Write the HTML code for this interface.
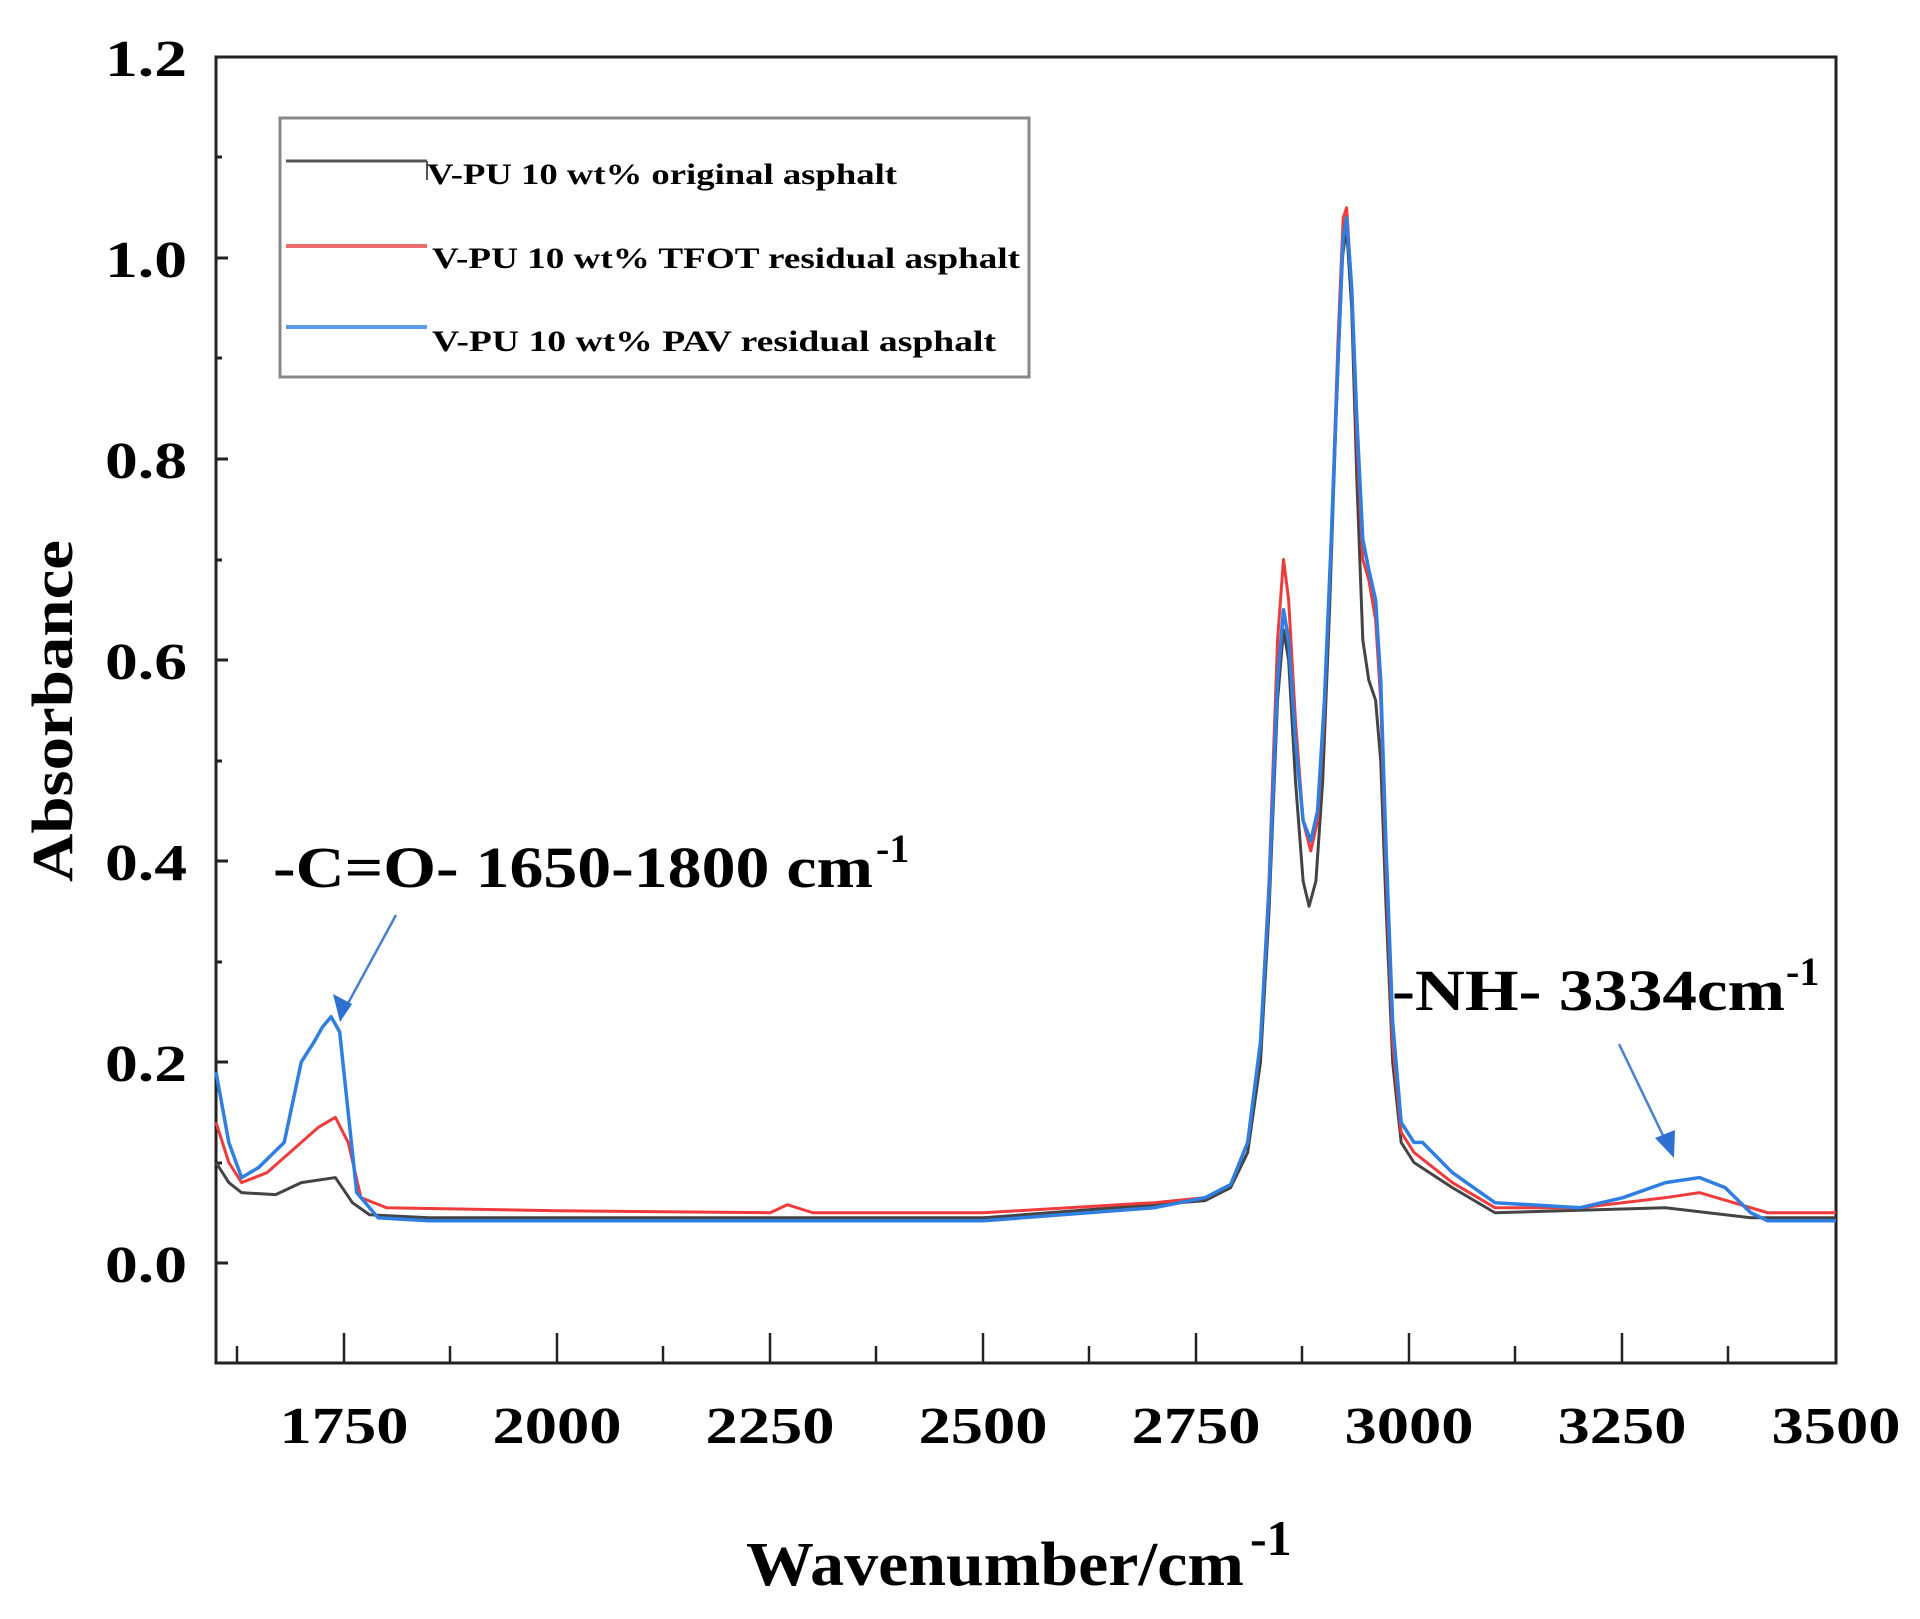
<!DOCTYPE html>
<html><head><meta charset="utf-8"><style>
html,body{margin:0;padding:0;background:#fff;}
svg{display:block;}
text{font-family:"Liberation Serif","Times New Roman",serif;font-weight:bold;fill:#000;}
</style></head><body>
<svg width="1920" height="1619" viewBox="0 0 1920 1619" xmlns="http://www.w3.org/2000/svg">
<rect width="1920" height="1619" fill="#fff"/>
<rect x="216" y="57" width="1620" height="1306" fill="none" stroke="#222" stroke-width="3"/>
<g stroke="#222" stroke-width="2.5">
<line x1="237" y1="1363" x2="237" y2="1346"/>
<line x1="344" y1="1363" x2="344" y2="1333"/>
<line x1="450" y1="1363" x2="450" y2="1346"/>
<line x1="557" y1="1363" x2="557" y2="1333"/>
<line x1="663" y1="1363" x2="663" y2="1346"/>
<line x1="770" y1="1363" x2="770" y2="1333"/>
<line x1="876" y1="1363" x2="876" y2="1346"/>
<line x1="983" y1="1363" x2="983" y2="1333"/>
<line x1="1089" y1="1363" x2="1089" y2="1346"/>
<line x1="1196" y1="1363" x2="1196" y2="1333"/>
<line x1="1302" y1="1363" x2="1302" y2="1346"/>
<line x1="1409" y1="1363" x2="1409" y2="1333"/>
<line x1="1515" y1="1363" x2="1515" y2="1346"/>
<line x1="1622" y1="1363" x2="1622" y2="1333"/>
<line x1="1728" y1="1363" x2="1728" y2="1346"/>
</g>
<g stroke="#222" stroke-width="3">
<line x1="216" y1="1263" x2="228" y2="1263"/>
<line x1="216" y1="1163" x2="222" y2="1163"/>
<line x1="216" y1="1062" x2="228" y2="1062"/>
<line x1="216" y1="962" x2="222" y2="962"/>
<line x1="216" y1="861" x2="228" y2="861"/>
<line x1="216" y1="761" x2="222" y2="761"/>
<line x1="216" y1="660" x2="228" y2="660"/>
<line x1="216" y1="560" x2="222" y2="560"/>
<line x1="216" y1="459" x2="228" y2="459"/>
<line x1="216" y1="358" x2="222" y2="358"/>
<line x1="216" y1="258" x2="228" y2="258"/>
<line x1="216" y1="157" x2="222" y2="157"/>
</g>
<g font-size="52" text-anchor="end">
<text x="187" y="1282" textLength="82" lengthAdjust="spacingAndGlyphs">0.0</text>
<text x="187" y="1081" textLength="82" lengthAdjust="spacingAndGlyphs">0.2</text>
<text x="187" y="880" textLength="82" lengthAdjust="spacingAndGlyphs">0.4</text>
<text x="187" y="679" textLength="82" lengthAdjust="spacingAndGlyphs">0.6</text>
<text x="187" y="478" textLength="82" lengthAdjust="spacingAndGlyphs">0.8</text>
<text x="187" y="277" textLength="82" lengthAdjust="spacingAndGlyphs">1.0</text>
<text x="187" y="76" textLength="82" lengthAdjust="spacingAndGlyphs">1.2</text>
</g>
<g font-size="52" text-anchor="middle">
<text x="344" y="1443" textLength="129" lengthAdjust="spacingAndGlyphs">1750</text>
<text x="557" y="1443" textLength="129" lengthAdjust="spacingAndGlyphs">2000</text>
<text x="770" y="1443" textLength="129" lengthAdjust="spacingAndGlyphs">2250</text>
<text x="983" y="1443" textLength="129" lengthAdjust="spacingAndGlyphs">2500</text>
<text x="1196" y="1443" textLength="129" lengthAdjust="spacingAndGlyphs">2750</text>
<text x="1409" y="1443" textLength="129" lengthAdjust="spacingAndGlyphs">3000</text>
<text x="1622" y="1443" textLength="129" lengthAdjust="spacingAndGlyphs">3250</text>
<text x="1836" y="1443" textLength="129" lengthAdjust="spacingAndGlyphs">3500</text>
</g>
<text transform="translate(72,711) rotate(-90)" font-size="58" text-anchor="middle" textLength="342" lengthAdjust="spacingAndGlyphs">Absorbance</text>
<text x="746" y="1585" font-size="62" textLength="498" lengthAdjust="spacingAndGlyphs">Wavenumber/cm</text>
<text x="1250" y="1555" font-size="50">-1</text>
<g transform="translate(-1148.2,1263) scale(0.852632,-1005)" fill="none" stroke-linejoin="round">
<polyline vector-effect="non-scaling-stroke" stroke="#444" stroke-width="3" points="1600,0.1 1615,0.08 1630,0.07 1670,0.068 1700,0.08 1740,0.085 1760,0.06 1780,0.048 1850,0.045 2500,0.045 2700,0.058 2760,0.062 2790,0.075 2810,0.11 2825,0.2 2835,0.35 2845,0.56 2852,0.63 2858,0.6 2866,0.48 2875,0.38 2882,0.355 2890,0.38 2898,0.48 2906,0.65 2914,0.85 2921,1.0 2926,1.03 2932,0.95 2938,0.78 2945,0.62 2952,0.58 2960,0.56 2966,0.5 2972,0.36 2980,0.2 2990,0.12 3005,0.1 3050,0.075 3100,0.05 3300,0.055 3400,0.045 3500,0.045"/>
<polyline vector-effect="non-scaling-stroke" stroke="#ee3b3b" stroke-width="3" points="1600,0.14 1615,0.1 1630,0.08 1660,0.09 1700,0.12 1720,0.135 1740,0.145 1755,0.12 1770,0.065 1800,0.055 2000,0.052 2250,0.05 2270,0.058 2300,0.05 2500,0.05 2700,0.06 2760,0.065 2790,0.078 2810,0.12 2825,0.22 2835,0.38 2845,0.62 2852,0.7 2858,0.66 2866,0.54 2875,0.44 2884,0.41 2892,0.44 2900,0.55 2908,0.72 2916,0.92 2922,1.04 2926,1.05 2932,0.97 2938,0.82 2945,0.7 2952,0.68 2960,0.64 2966,0.56 2972,0.4 2980,0.22 2990,0.13 3005,0.11 3050,0.08 3100,0.055 3200,0.055 3300,0.065 3340,0.07 3380,0.06 3420,0.05 3500,0.05"/>
<polyline vector-effect="non-scaling-stroke" stroke="#2f7ee0" stroke-width="3.5" points="1600,0.19 1615,0.12 1630,0.085 1650,0.095 1680,0.12 1700,0.2 1715,0.22 1725,0.235 1735,0.245 1745,0.23 1755,0.15 1765,0.07 1790,0.045 1850,0.042 2500,0.042 2700,0.055 2760,0.065 2790,0.078 2810,0.12 2825,0.22 2835,0.37 2845,0.58 2852,0.65 2858,0.62 2866,0.52 2875,0.44 2884,0.42 2892,0.45 2900,0.56 2908,0.72 2916,0.9 2922,1.02 2926,1.04 2932,0.97 2938,0.84 2945,0.72 2952,0.69 2960,0.66 2966,0.58 2972,0.42 2980,0.24 2990,0.14 3005,0.12 3015,0.12 3050,0.09 3100,0.06 3200,0.055 3250,0.065 3300,0.08 3340,0.085 3370,0.075 3400,0.05 3420,0.042 3500,0.042"/>
</g>
<rect x="280" y="118" width="749" height="259" fill="#fff" stroke="#888" stroke-width="3"/>
<line x1="286" y1="161" x2="427" y2="161" stroke="#555" stroke-width="3"/>
<line x1="427" y1="161" x2="427" y2="180" stroke="#555" stroke-width="2"/>
<line x1="286" y1="246" x2="427" y2="246" stroke="#ef6b6b" stroke-width="4"/>
<line x1="286" y1="327" x2="427" y2="327" stroke="#5b9be8" stroke-width="4"/>
<g font-size="30">
<text x="427" y="184" textLength="470" lengthAdjust="spacingAndGlyphs">V-PU 10 wt% original asphalt</text>
<text x="432" y="268" textLength="588" lengthAdjust="spacingAndGlyphs">V-PU 10 wt% TFOT residual asphalt</text>
<text x="432" y="351" textLength="564" lengthAdjust="spacingAndGlyphs">V-PU 10 wt% PAV residual asphalt</text>
</g>
<text x="273" y="887" font-size="58" textLength="600" lengthAdjust="spacingAndGlyphs">-C=O- 1650-1800 cm</text>
<text x="876" y="862" font-size="40">-1</text>
<text x="1392" y="1010" font-size="58" textLength="393" lengthAdjust="spacingAndGlyphs">-NH- 3334cm</text>
<text x="1786" y="985" font-size="40">-1</text>
<line x1="396" y1="915" x2="340" y2="1018" stroke="#4a7fd0" stroke-width="2.5"/>
<path d="M340,1022 L333,994 L352,1004 z" fill="#2f6fd0"/>
<line x1="1619" y1="1044" x2="1670" y2="1150" stroke="#4a7fd0" stroke-width="2.5"/>
<path d="M1674,1158 L1655,1138 L1675,1130 z" fill="#2f6fd0"/>
</svg>
</body></html>
